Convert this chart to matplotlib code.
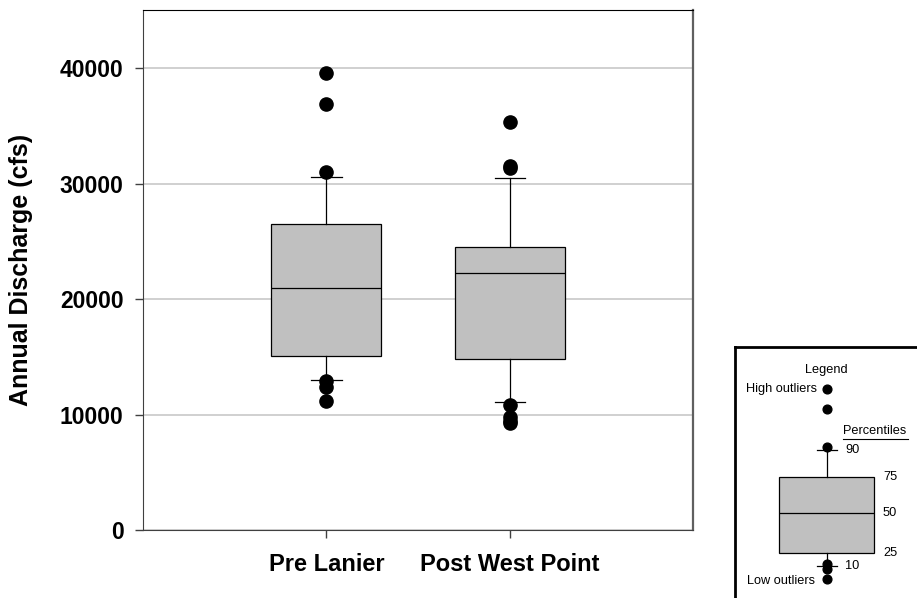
import matplotlib.pyplot as plt

plt.rcParams['font.family'] = ['Liberation Sans', 'DejaVu Sans']

# --- data (cfs) ---
sites = ['Pre Lanier', 'Post West Point']
q10 = [13000, 11100]
q25 = [15100, 14800]
q50 = [21000, 22300]
q75 = [26500, 24500]
q90 = [30600, 30500]
outliers = [
    [39600, 36870, 30990, 12950, 12400, 11200],
    [35360, 31350, 31550, 10850, 9800, 9500, 9300],
]
yticks = [0, 10000, 20000, 30000, 40000]

# --- schematic values for the legend box ---
leg_pct = [10, 25, 50, 75, 90]
leg_pos = [43.3, 56.7, 96.3, 132.3, 160]
leg_fliers = [221, 201, 162.3, 45, 40, 30]


def make_stats(i):
    return {'label': sites[i], 'whislo': q10[i], 'q1': q25[i], 'med': q50[i],
            'q3': q75[i], 'whishi': q90[i], 'fliers': outliers[i]}


fig = plt.figure(figsize=(9.17, 5.98), dpi=100)
ax = fig.add_axes([0.156, 0.113, 0.600, 0.870])

stats = [make_stats(i) for i in range(len(sites))]
ax.bxp(stats, positions=[1, 2], widths=0.6, capwidths=0.165, patch_artist=True,
       boxprops=dict(facecolor='#c0c0c0', edgecolor='black', linewidth=0.9),
       medianprops=dict(color='black', linewidth=0.9),
       whiskerprops=dict(color='black', linewidth=0.9),
       capprops=dict(color='black', linewidth=0.9),
       flierprops=dict(marker='o', markerfacecolor='black', markeredgecolor='black',
                       markersize=9.5, linestyle='none'))

ax.set_xlim(0, 3)
ax.set_ylim(0, 45000)
ax.set_yticks(yticks)
ax.set_yticklabels([str(t) for t in yticks])
ax.yaxis.grid(True, color='#c8c8c8', linewidth=1.2, zorder=0)
ax.set_axisbelow(True)
ax.tick_params(axis='y', direction='out', length=6, width=1, color='#404040',
               labelsize=16.5, pad=8)
ax.tick_params(axis='x', direction='out', length=6, width=1, color='#404040',
               labelsize=17, pad=10)
for lbl in ax.get_xticklabels() + ax.get_yticklabels():
    lbl.set_fontweight('bold')

ax.set_ylabel('Annual Discharge (cfs)', fontsize=18, fontweight='bold')
ax.yaxis.set_label_coords(-0.2, 0.5)

ax.spines['top'].set_color('black')
ax.spines['left'].set_color('#404040')
ax.spines['bottom'].set_color('#404040')
ax.spines['right'].set_color('#606060')
ax.spines['right'].set_linewidth(1.6)

# --- legend panel (partly cut off by the figure edge) ---
lax = fig.add_axes([0.8012, -0.0184, 0.2097, 0.4386])
for s in lax.spines.values():
    s.set_linewidth(2)
    s.set_color('black')

leg_stat = [{'whislo': leg_pos[0], 'q1': leg_pos[1], 'med': leg_pos[2],
             'q3': leg_pos[3], 'whishi': leg_pos[4], 'fliers': leg_fliers}]
lax.bxp(leg_stat, positions=[92], widths=94.7, capwidths=20, patch_artist=True,
        boxprops=dict(facecolor='#c0c0c0', edgecolor='black', linewidth=0.9),
        medianprops=dict(color='black', linewidth=0.9),
        whiskerprops=dict(color='black', linewidth=0.9),
        capprops=dict(color='black', linewidth=0.9),
        flierprops=dict(marker='o', markerfacecolor='black', markeredgecolor='black',
                        markersize=6.3, linestyle='none'))
lax.set_xlim(0, 192.3)
lax.set_ylim(0, 263.3)
lax.set_xticks([])
lax.set_yticks([])

fs = 9.2
lax.text(92, 240, 'Legend', ha='center', va='center', fontsize=fs)
lax.text(82, 221, 'High outliers', ha='right', va='center', fontsize=fs)
lax.text(80.5, 28.3, 'Low outliers', ha='right', va='center', fontsize=fs)
lax.text(108.3, 178.3, 'Percentiles', ha='left', va='center', fontsize=fs)
lax.plot([108.3, 173.5], [171, 171], color='black', linewidth=0.8)
for p, y in zip(leg_pct, leg_pos):
    x = 110.3 if p in (10, 90) else 148.3
    lax.text(x, y, str(p), ha='left', va='center', fontsize=fs)

fig.savefig('out.png', dpi=100)
